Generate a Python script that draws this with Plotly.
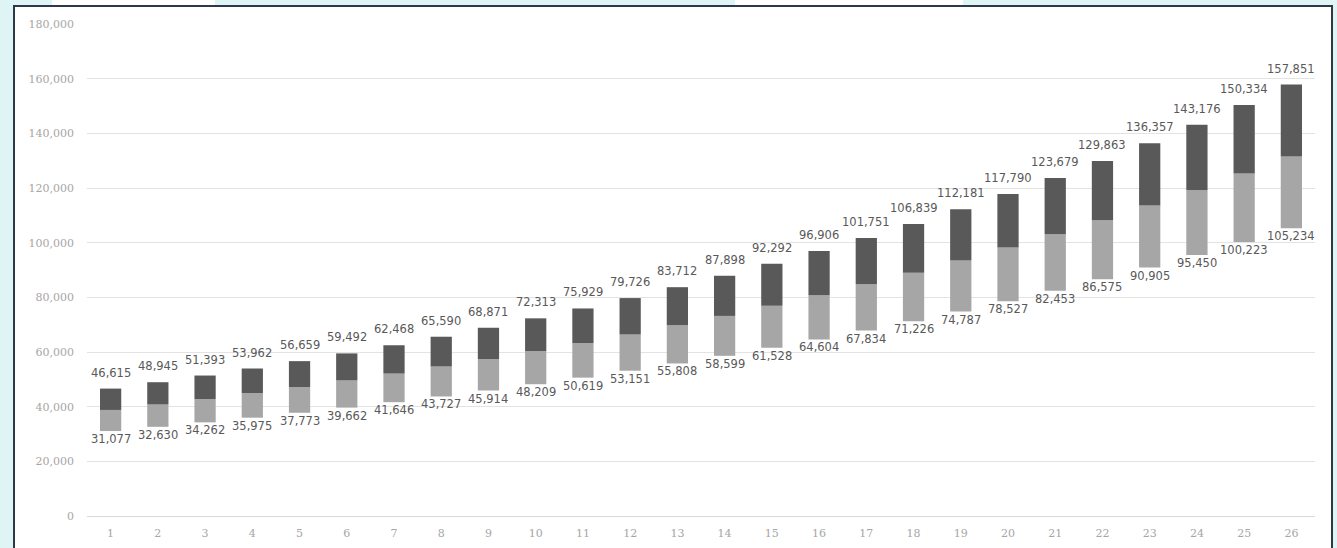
import plotly.graph_objects as go

categories = [str(i) for i in range(1, 27)]
low_values = [31077, 32630, 34262, 35975, 37773, 39662, 41646, 43727, 45914, 48209,
              50619, 53151, 55808, 58599, 61528, 64604, 67834, 71226, 74787, 78527,
              82453, 86575, 90905, 95450, 100223, 105234]
mid_values = [38800, 40800, 42800, 45000, 47200, 49600, 52100, 54700, 57400, 60300,
              63300, 66400, 69800, 73200, 76900, 80800, 84800, 89000, 93500, 98200,
              103100, 108200, 113600, 119300, 125300, 131500]
high_values = [46615, 48945, 51393, 53962, 56659, 59492, 62468, 65590, 68871, 72313,
               75929, 79726, 83712, 87898, 92292, 96906, 101751, 106839, 112181, 117790,
               123679, 129863, 136357, 143176, 150334, 157851]
y_ticks = [0, 20000, 40000, 60000, 80000, 100000, 120000, 140000, 160000, 180000]

W, H = 1337, 548
L, R, T, B = 87, 1315, 24, 516

def px(x):
    return (x - L) / (R - L)

def py(y):
    return (B - y) / (B - T)

fig = go.Figure()
fig.add_trace(go.Bar(
    x=categories, base=low_values,
    y=[m - l for m, l in zip(mid_values, low_values)],
    marker=dict(color="#a6a6a6", line=dict(width=0)),
    hoverinfo="skip", showlegend=False))
fig.add_trace(go.Bar(
    x=categories, base=mid_values,
    y=[h - m for h, m in zip(high_values, mid_values)],
    marker=dict(color="#595959", line=dict(width=0)),
    hoverinfo="skip", showlegend=False))

label_font = dict(family="DejaVu Sans", size=11.5, color="#595959")
annotations = []
for i, h in enumerate(high_values):
    annotations.append(dict(x=i, y=h, xref="x", yref="y", text=f"{h:,}",
                            showarrow=False, yanchor="bottom", yshift=7,
                            font=label_font))
for i, lo in enumerate(low_values):
    annotations.append(dict(x=i, y=lo, xref="x", yref="y", text=f"{lo:,}",
                            showarrow=False, yanchor="top", yshift=1,
                            font=label_font))

shapes = [
    dict(type="rect", xref="paper", yref="paper", layer="below",
         x0=px(14), x1=px(1332), y0=py(560), y1=py(6),
         fillcolor="white", line=dict(color="#2e3846", width=2)),
    dict(type="rect", xref="paper", yref="paper", layer="below",
         x0=px(52), x1=px(215), y0=py(5), y1=py(-2),
         fillcolor="white", line=dict(width=0)),
    dict(type="rect", xref="paper", yref="paper", layer="below",
         x0=px(735), x1=px(963), y0=py(5), y1=py(-2),
         fillcolor="white", line=dict(width=0)),
]

fig.update_layout(
    width=W, height=H,
    margin=dict(l=L, r=W - R, t=T, b=H - B),
    paper_bgcolor="#dff5f5", plot_bgcolor="rgba(0,0,0,0)",
    barmode="overlay", bargap=0.55,
    shapes=shapes, annotations=annotations,
    xaxis=dict(type="category", range=[-0.5, len(categories) - 0.5],
               showgrid=False, showline=True, automargin=False,
               linecolor="#d9d9d9", linewidth=1, ticks="",
               tickfont=dict(family="DejaVu Serif", size=11, color="#a6a6a6"),
               ticklabelstandoff=7, fixedrange=True),
    yaxis=dict(range=[0, 180000], tickvals=y_ticks,
               ticktext=[f"{v:,}" for v in y_ticks], automargin=False,
               showgrid=True, gridcolor="#e3e3e3", gridwidth=1,
               zeroline=False, showline=False, ticks="",
               tickfont=dict(family="DejaVu Serif", size=11, color="#a6a6a6"),
               ticklabelstandoff=12, fixedrange=True),
)

fig.write_html("out.html")
